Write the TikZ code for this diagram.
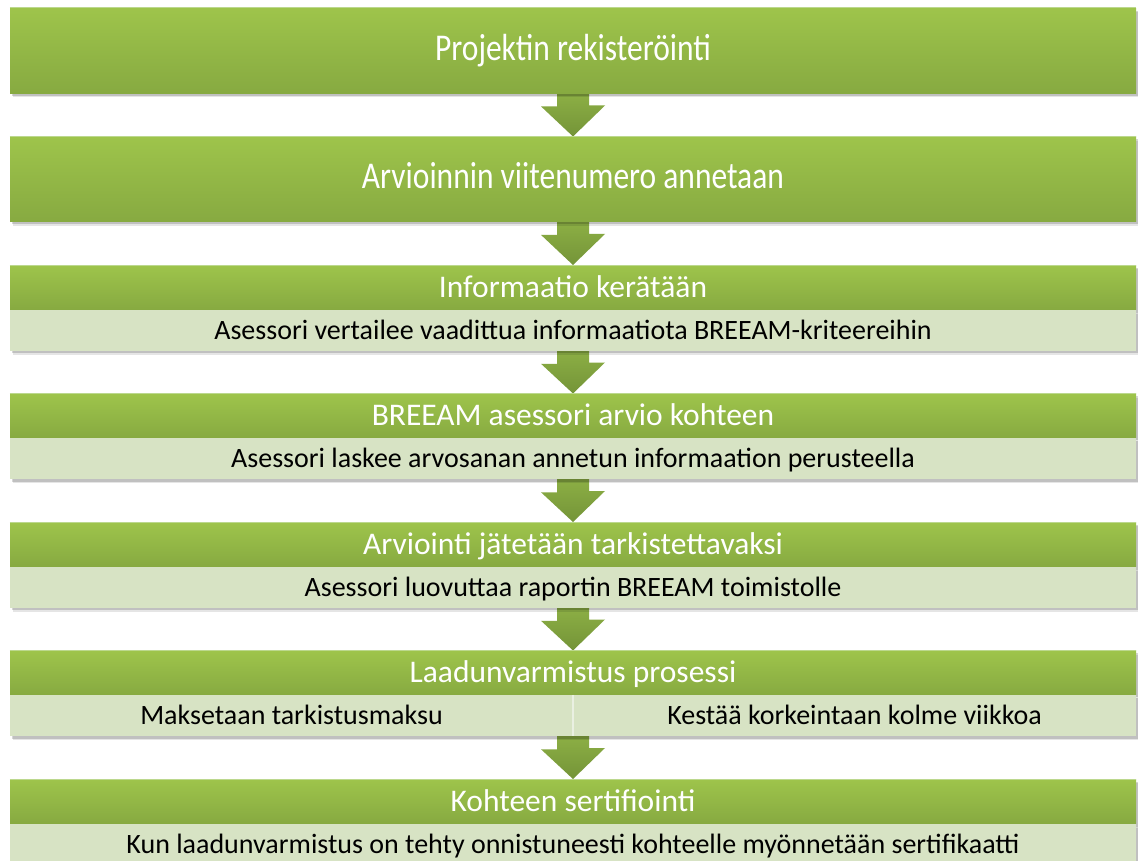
\documentclass[tikz,border=0pt]{standalone}
\usepackage{fontspec}
\setmainfont{Carlito}
\usetikzlibrary{shadows}

\definecolor{bartop}{RGB}{158,196,75}
\definecolor{barbot}{RGB}{135,170,65}
\definecolor{barline}{RGB}{188,216,142}
\definecolor{subfill}{RGB}{215,227,196}
\definecolor{subline}{RGB}{234,240,226}
\definecolor{arrtop}{RGB}{143,178,70}
\definecolor{arrbot}{RGB}{116,148,56}

\pgfdeclarelayer{paper}
\pgfdeclarelayer{arrows}
\pgfsetlayers{paper,arrows,main}

\tikzset{
  boxshadow/.style={
    drop shadow={shadow xshift=1.5pt,shadow yshift=-2.5pt,opacity=.16,fill=black},
    drop shadow={shadow xshift=3pt,shadow yshift=-4pt,opacity=.10,fill=black}},
  bigbar/.style={boxshadow,anchor=north,minimum width=1126pt,minimum height=85pt,
    inner sep=0pt,top color=bartop,bottom color=barbot,text=white,
    font=\fontsize{31.5}{32}\selectfont,text height=24pt,text depth=5pt},
  bar/.style={bigbar,minimum height=44pt,text height=20pt,text depth=0pt},
  subbar/.style={boxshadow,anchor=north,minimum width=1126pt,minimum height=41pt,
    inner sep=0pt,fill=subfill,font=\fontsize{28}{30}\selectfont,
    text height=18pt,text depth=0pt},
  subtext/.style={inner sep=0pt,font=\fontsize{28}{30}\selectfont,
    text height=18pt,text depth=0pt},
  blockarrow/.style={top color=arrtop,bottom color=arrbot,draw=none},
}

\begin{document}
\begin{tikzpicture}[x=1pt,y=1pt]
  \useasboundingbox (0,0) rectangle (1138,-861);
  \begin{pgfonlayer}{paper}
    \fill[white] (0,0) rectangle (1138,-861);
  \end{pgfonlayer}

  % steps, top to bottom
  \node[bigbar] (t1) at (573,-8) {\scalebox{1}[1.2]{Projektin rekisteröinti}};
  \node[bigbar] (t2) at (573,-136.5) {\scalebox{1}[1.2]{Arvioinnin viitenumero annetaan}};

  \node[bar] (t3) at (573,-265) {Informaatio kerätään};
  \node[subbar] (s3) at (t3.south) {Asessori vertailee vaadittua informaatiota BREEAM-kriteereihin};

  \node[bar] (t4) at (573,-393.5) {BREEAM asessori arvio kohteen};
  \node[subbar] (s4) at (t4.south) {Asessori laskee arvosanan annetun informaation perusteella};

  \node[bar] (t5) at (573,-522) {Arviointi jätetään tarkistettavaksi};
  \node[subbar] (s5) at (t5.south) {Asessori luovuttaa raportin BREEAM toimistolle};

  \node[bar] (t6) at (573,-650.5) {Laadunvarmistus prosessi};
  \node[subbar] (s6) at (t6.south) {};
  \draw[subline,line width=1.2pt] (s6.north) -- (s6.south);
  \node[subtext,xshift=-281.5pt] (s6a) at (s6) {Maksetaan tarkistusmaksu};
  \node[subtext,xshift=281.5pt] (s6b) at (s6) {Kestää korkeintaan kolme viikkoa};

  \node[bar] (t7) at (573,-779) {Kohteen sertifiointi};
  \node[subbar] (s7) at (t7.south) {Kun laadunvarmistus on tehty onnistuneesti kohteelle myönnetään sertifikaatti};

  % light edge along the top of each bar
  \foreach \i in {1,...,7}
    \draw[barline,line width=1pt] (t\i.north west) -- (t\i.north east);

  % block arrows between the steps
  \begin{pgfonlayer}{arrows}
    \foreach \a/\b in {t1/t2,t2/t3,s3/t4,s4/t5,s5/t6,s6/t7}
      \path[blockarrow] (\a.south) ++(-16,4) -- ++(0,-17) -- ++(-16,0) -- (\b.north)
        -- ++(32,31) -- ++(-16,0) -- ++(0,17) -- cycle;
  \end{pgfonlayer}
\end{tikzpicture}
\end{document}
